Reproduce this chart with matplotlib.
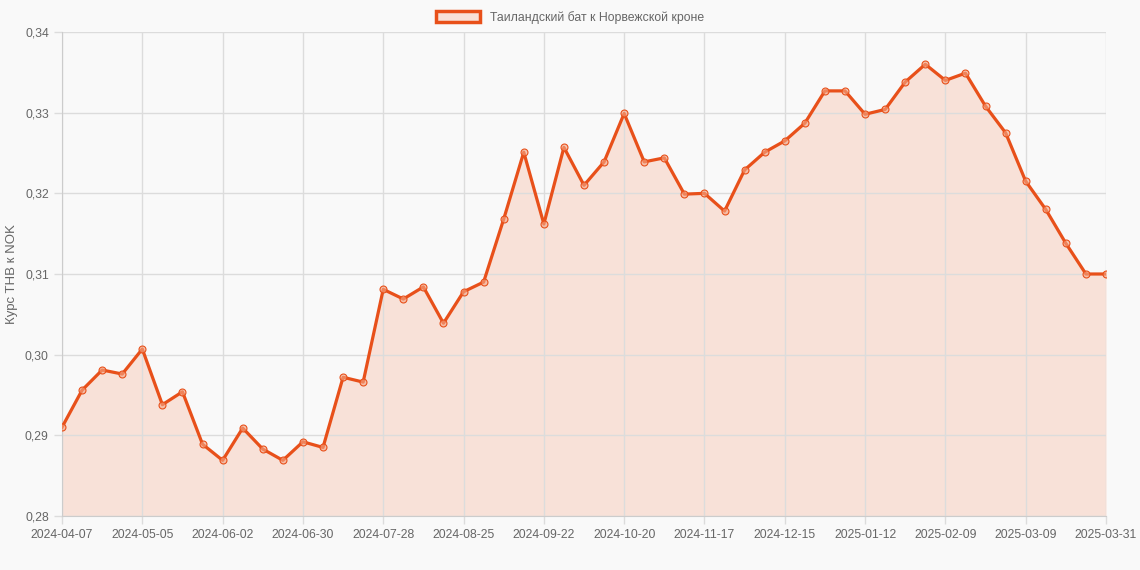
import matplotlib
matplotlib.use('Agg')
import matplotlib.pyplot as plt
from matplotlib.patches import Patch
from matplotlib.ticker import FuncFormatter

plt.rcParams['font.family'] = ['Liberation Sans', 'DejaVu Sans']

# weekly rate, THB -> NOK
rates = [0.2910, 0.2956, 0.2981, 0.2976, 0.3007, 0.2938, 0.2954, 0.2889, 0.2869, 0.2909,
         0.2883, 0.2869, 0.2892, 0.2885, 0.2972, 0.2966, 0.3081, 0.3069, 0.3084, 0.3039,
         0.3078, 0.3090, 0.3168, 0.3251, 0.3162, 0.3257, 0.3210, 0.3239, 0.3299, 0.3239,
         0.3244, 0.3199, 0.3200, 0.3178, 0.3229, 0.3251, 0.3265, 0.3287, 0.3327, 0.3327,
         0.3298, 0.3304, 0.3338, 0.3360, 0.3340, 0.3349, 0.3308, 0.3275, 0.3215, 0.3180,
         0.3138, 0.3100, 0.3100]
tick_pos = [0, 4, 8, 12, 16, 20, 24, 28, 32, 36, 40, 44, 48, 52]
tick_labels = ['2024-04-07', '2024-05-05', '2024-06-02', '2024-06-30', '2024-07-28',
               '2024-08-25', '2024-09-22', '2024-10-20', '2024-11-17', '2024-12-15',
               '2025-01-12', '2025-02-09', '2025-03-09', '2025-03-31']
y_ticks = [0.28, 0.29, 0.30, 0.31, 0.32, 0.33, 0.34]

line_c = '#e8501a'
fill_c = '#f8e1d8'
txt_c = '#666666'
grid_c = '#dcdcdc'

fig = plt.figure(figsize=(11.4, 5.7), dpi=100, facecolor='#f9f9f9')
ax = fig.add_axes([62/1140, 54/570, (1106-62)/1140, (516-32)/570])
ax.set_facecolor('#f9f9f9')

x = list(range(len(rates)))
ax.fill_between(x, rates, 0.28, color=fill_c, lw=0, zorder=1)
ax.plot(x, rates, color=line_c, lw=2.3, zorder=3, marker='o', ms=5,
        mfc=(0.96, 0.65, 0.52, 0.6), mec=line_c, mew=0.8)

ax.set_xlim(0, len(rates) - 1)
ax.set_ylim(0.28, 0.34)
ax.set_xticks(tick_pos)
ax.set_xticklabels(tick_labels)
ax.set_yticks(y_ticks)
ax.yaxis.set_major_formatter(FuncFormatter(lambda v, p: f'{v:.2f}'.replace('.', ',')))
ax.grid(True, color=grid_c, lw=1, zorder=0)
ax.tick_params(colors=grid_c, labelcolor=txt_c, labelsize=8.8, length=6, width=1)
for s in ['top', 'right']:
    ax.spines[s].set_visible(False)
for s in ['left', 'bottom']:
    ax.spines[s].set_color('#cccccc')

ax.set_ylabel('Курс THB к NOK', color=txt_c, fontsize=9.5)
ax.yaxis.set_label_coords(-0.042, 0.5)

handle = Patch(facecolor=fill_c, edgecolor=line_c, lw=2.5)
fig.legend([handle], ['Таиландский бат к Норвежской кроне'], loc='upper center',
           bbox_to_anchor=(0.5, 1.0), frameon=False, fontsize=8.8, labelcolor=txt_c,
           handlelength=3.6, handleheight=1.0)

fig.savefig('out.png', dpi=100, facecolor=fig.get_facecolor())
